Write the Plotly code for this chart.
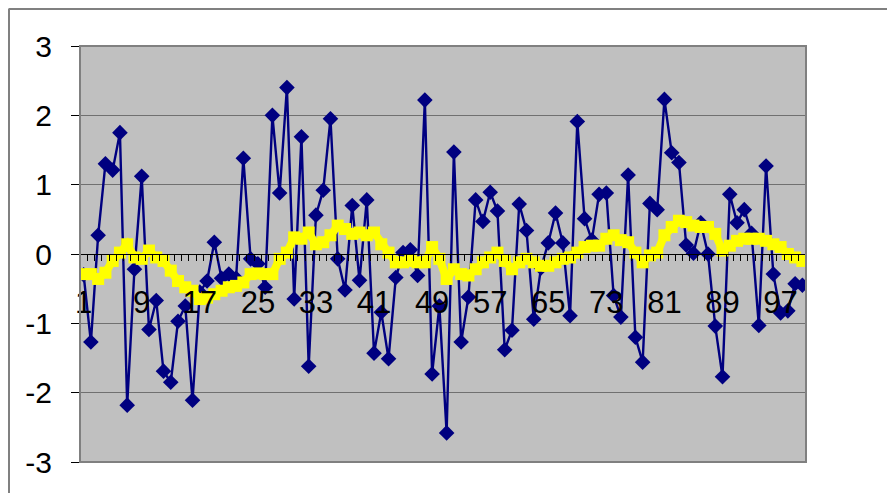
import plotly.graph_objects as go

categories = list(range(1, 101))

series_values = [
    -0.30, -1.27, 0.27, 1.30, 1.21, 1.75, -2.18, -0.22, 1.12, -1.09,
    -0.67, -1.69, -1.85, -0.97, -0.75, -2.11, -0.55, -0.39, 0.17, -0.35,
    -0.29, -0.35, 1.38, -0.07, -0.14, -0.48, 2.00, 0.88, 2.40, -0.65,
    1.69, -1.62, 0.56, 0.92, 1.95, -0.07, -0.52, 0.70, -0.38, 0.78,
    -1.43, -0.84, -1.51, -0.34, 0.02, 0.06, -0.31, 2.22, -1.73, -0.75,
    -2.58, 1.47, -1.27, -0.62, 0.78, 0.47, 0.89, 0.62, -1.38, -1.10,
    0.72, 0.34, -0.94, -0.20, 0.16, 0.59, 0.16, -0.89, 1.91, 0.51,
    0.20, 0.86, 0.88, -0.60, -0.91, 1.14, -1.20, -1.56, 0.73, 0.64,
    2.23, 1.46, 1.32, 0.13, 0.01, 0.45, 0.00, -1.04, -1.77, 0.86,
    0.45, 0.64, 0.30, -1.03, 1.27, -0.29, -0.85, -0.82, -0.43, -0.45,
]

smooth_values = [
    -0.29, -0.29, -0.36, -0.27, -0.10, 0.02, 0.14, -0.05, -0.07, 0.05,
    -0.05, -0.10, -0.24, -0.39, -0.48, -0.53, -0.65, -0.63, -0.58, -0.53,
    -0.48, -0.46, -0.41, -0.29, -0.28, -0.29, -0.29, -0.07, 0.02, 0.24,
    0.22, 0.31, 0.14, 0.17, 0.27, 0.41, 0.36, 0.29, 0.31, 0.27,
    0.31, 0.14, 0.02, -0.12, -0.12, -0.10, -0.12, -0.12, 0.10, -0.07,
    -0.36, -0.22, -0.29, -0.31, -0.22, -0.12, -0.05, 0.02, -0.10, -0.22,
    -0.12, -0.07, -0.12, -0.17, -0.17, -0.12, -0.07, -0.05, 0.02, 0.10,
    0.12, 0.12, 0.22, 0.27, 0.20, 0.17, 0.02, -0.12, -0.02, 0.02,
    0.27, 0.39, 0.48, 0.46, 0.41, 0.39, 0.39, 0.29, 0.05, 0.12,
    0.19, 0.22, 0.22, 0.22, 0.19, 0.14, 0.10, 0.00, -0.05, -0.10,
]

x_tick_vals = list(range(1, 101, 8))
x_tick_text = [str(v) for v in x_tick_vals]
y_tick_vals = [-3, -2, -1, 0, 1, 2, 3]
y_tick_text = [str(v) for v in y_tick_vals]

W, H = 887, 485
ML, MT, PW, PH = 72, 38, 726, 416

fig = go.Figure()
fig.add_trace(go.Scatter(
    x=categories, y=series_values, mode="lines+markers",
    line=dict(color="#000080", width=2.4),
    marker=dict(symbol="diamond", size=12, color="#000080"),
    showlegend=False,
))
fig.add_trace(go.Scatter(
    x=categories, y=smooth_values, mode="lines+markers",
    line=dict(color="#FFFF00", width=8),
    marker=dict(symbol="square", size=12, color="#FFFF00"),
    showlegend=False,
))

fig.update_layout(
    width=W, height=H,
    margin=dict(l=ML, r=W - ML - PW, t=MT, b=H - MT - PH),
    paper_bgcolor="white",
    plot_bgcolor="#C0C0C0",
    font=dict(family="Liberation Sans, Arial, sans-serif", color="black"),
    xaxis=dict(
        range=[0.5, 100.5], tickmode="array", tickvals=x_tick_vals, ticktext=x_tick_text,
        ticks="", showgrid=False, zeroline=False,
        showline=True, linecolor="black", linewidth=1,
        anchor="free", position=0.5,
        ticklabelstandoff=21,
        tickfont=dict(size=31),
        minor=dict(tickmode="linear", tick0=0.5, dtick=1, ticks="outside",
                   ticklen=6, tickcolor="black", tickwidth=1, showgrid=False),
    ),
    yaxis=dict(
        range=[-3, 3], tickmode="array", tickvals=y_tick_vals, ticktext=y_tick_text,
        showgrid=True, gridcolor="#707070", gridwidth=1,
        zeroline=False, ticks="outside", ticklen=8, tickcolor="black",
        showline=True, linecolor="#404040", linewidth=1,
        tickfont=dict(size=30),
        ticklabelstandoff=13,
    ),
    shapes=[
        dict(type="rect", xref="paper", yref="paper", x0=0, x1=1, y0=0, y1=1,
             line=dict(color="#808080", width=2), layer="above"),
        dict(type="line", xref="paper", yref="paper",
             x0=(0.5 - ML) / PW, x1=(W + 5 - ML) / PW,
             y0=(MT + PH - 1) / PH, y1=(MT + PH - 1) / PH,
             line=dict(color="#808080", width=2)),
        dict(type="line", xref="paper", yref="paper",
             x0=(1 - ML) / PW, x1=(1 - ML) / PW,
             y0=(MT + PH - 1) / PH, y1=-(H - MT - PH + 5) / PH,
             line=dict(color="#808080", width=2)),
    ],
)

fig.write_html("out.html")
